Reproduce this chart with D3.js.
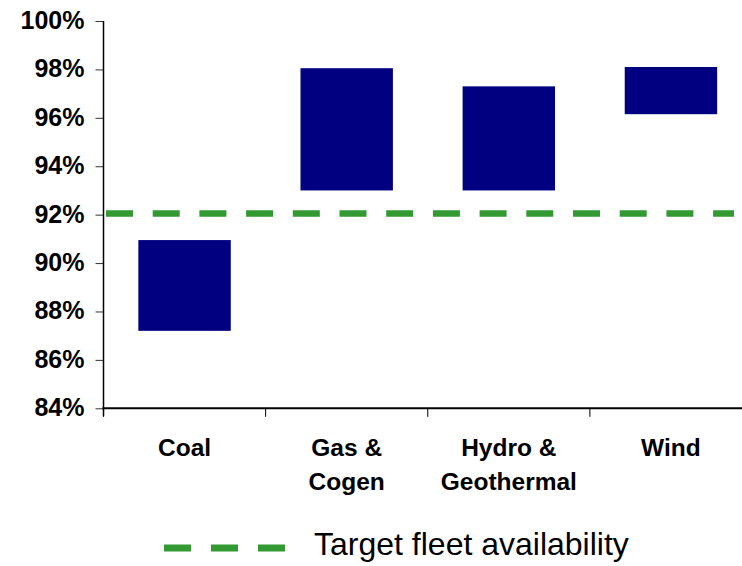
<!DOCTYPE html>
<html>
<head>
<meta charset="utf-8">
<script src="https://cdn.jsdelivr.net/npm/d3@7"></script>
<style>
  html, body { margin: 0; padding: 0; background: #fff; }
  svg { display: block; }
  text { font-family: "Liberation Sans", Arial, sans-serif; }
</style>
</head>
<body>
<svg id="chart" width="742" height="566"></svg>
<script>
// ---- data ----
const categories = [["Coal"], ["Gas &", "Cogen"], ["Hydro &", "Geothermal"], ["Wind"]];
const lowValues  = [87.2, 93.0, 93.0, 96.15];
const highValues = [90.95, 98.05, 97.3, 98.1];
const targetValue = 92.05;
const yTickValues = [84, 86, 88, 90, 92, 94, 96, 98, 100];
const legendLabel = "Target fleet availability";

(function () {
// ---- layout ----
const svg = d3.select("#chart");
const pLeft = 103.5, pRight = 752, pTop = 21, pBottom = 408.3;
const names = categories.map(c => c.join(" "));

const y = d3.scaleLinear().domain([84, 100]).range([pBottom, pTop]);
const x = d3.scaleBand().domain(names).range([pLeft, pRight])
  .paddingInner(0.43).paddingOuter(0.215);

const green = "#339933", navy = "#000080";

// bars
svg.append("g").selectAll("rect")
  .data(names)
  .join("rect")
  .attr("x", d => x(d))
  .attr("width", x.bandwidth())
  .attr("y", (d, i) => y(highValues[i]))
  .attr("height", (d, i) => y(lowValues[i]) - y(highValues[i]))
  .attr("fill", navy);

// target line
svg.append("line")
  .attr("x1", pLeft + 2.5).attr("x2", 734)
  .attr("y1", y(targetValue)).attr("y2", y(targetValue))
  .attr("stroke", green).attr("stroke-width", 6.5)
  .attr("stroke-dasharray", "27 19.7");

// y axis
const yAxis = d3.axisLeft(y).tickValues(yTickValues)
  .tickFormat(d => d + "%").tickSize(8).tickPadding(11);
const gy = svg.append("g").attr("transform", `translate(${pLeft},0)`).call(yAxis);
gy.select(".domain").remove();
gy.selectAll(".tick line").attr("stroke", "#333").attr("stroke-width", 1);
gy.selectAll(".tick text")
  .attr("font-size", 25).attr("font-weight", "bold").attr("fill", "#000")
  .attr("font-family", "'Liberation Sans', Arial, sans-serif")
  .attr("dy", "0.3em");
svg.append("line")
  .attr("x1", pLeft).attr("x2", pLeft).attr("y1", pTop).attr("y2", pBottom + 8)
  .attr("stroke", "#000").attr("stroke-width", 1.5);

// x axis
svg.append("line")
  .attr("x1", pLeft - 1).attr("x2", 742).attr("y1", pBottom).attr("y2", pBottom)
  .attr("stroke", "#000").attr("stroke-width", 2);
const step = x.step();
svg.append("g").selectAll("line")
  .data(names)
  .join("line")
  .attr("x1", d => x(d) - step * x.paddingInner() / 2)
  .attr("x2", d => x(d) - step * x.paddingInner() / 2)
  .attr("y1", pBottom).attr("y2", pBottom + 8.5)
  .attr("stroke", "#000").attr("stroke-width", 1);

// category labels
const lbl = svg.append("g").selectAll("text")
  .data(categories)
  .join("text")
  .attr("x", (d, i) => x(names[i]) + x.bandwidth() / 2)
  .attr("y", 456)
  .attr("text-anchor", "middle")
  .attr("font-size", 24.5).attr("font-weight", "bold").attr("fill", "#000");
lbl.selectAll("tspan")
  .data(d => d)
  .join("tspan")
  .attr("x", function() { return d3.select(this.parentNode).attr("x"); })
  .attr("dy", (d, i) => i === 0 ? 0 : 34)
  .text(d => d);

// legend
svg.append("line")
  .attr("x1", 164).attr("x2", 286).attr("y1", 548).attr("y2", 548)
  .attr("stroke", green).attr("stroke-width", 7)
  .attr("stroke-dasharray", "27 20");
svg.append("text")
  .attr("x", 314).attr("y", 554.5)
  .attr("font-size", 32).attr("fill", "#000")
  .text(legendLabel);
})();
</script>
</body>
</html>
